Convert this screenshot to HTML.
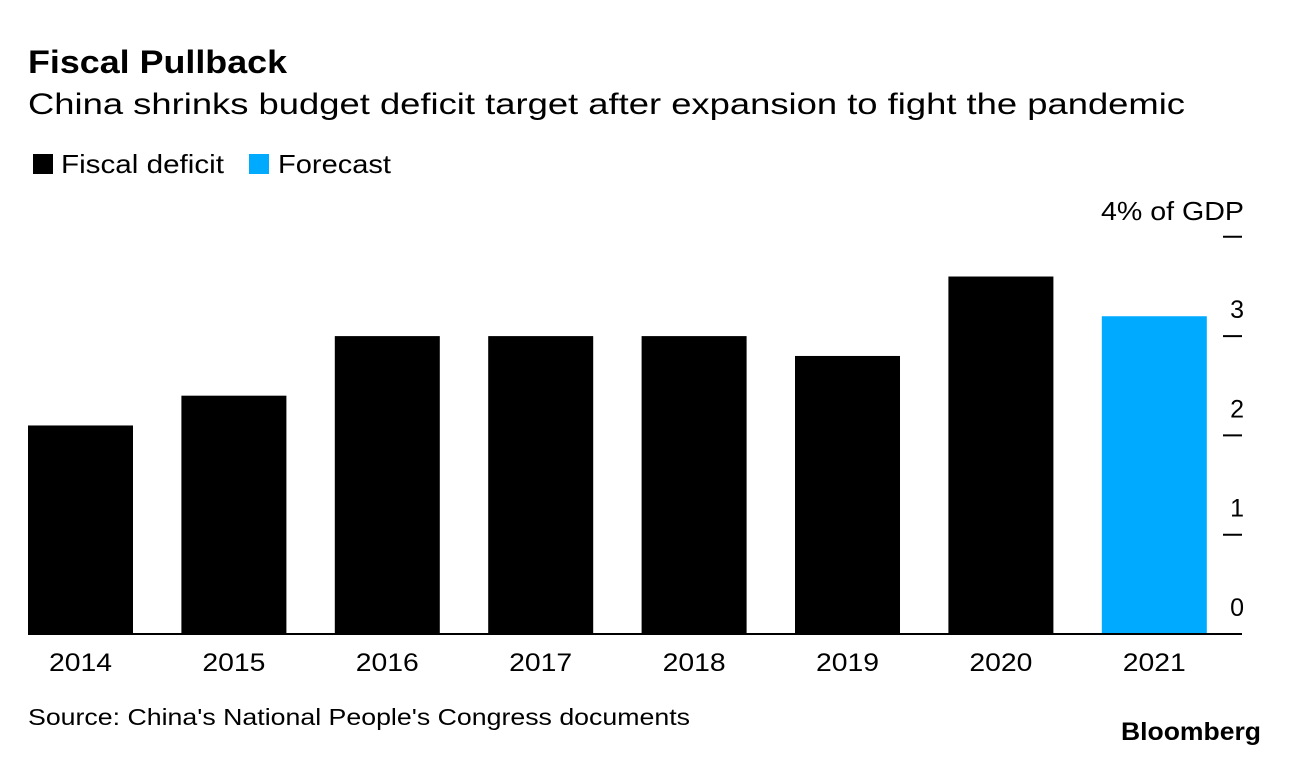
<!DOCTYPE html>
<html><head><meta charset="utf-8"><style>
body{margin:0;background:#fff;width:1289px;height:756px;overflow:hidden;font-family:"Liberation Sans",Arial,sans-serif;}
</style></head><body>
<svg width="1289" height="756" xmlns="http://www.w3.org/2000/svg" font-family="Liberation Sans, Arial, sans-serif">
<text x="28" y="73" font-size="32" font-weight="bold" fill="#000" textLength="259" lengthAdjust="spacingAndGlyphs">Fiscal Pullback</text>
<text x="28" y="114" font-size="30" fill="#000" textLength="1157" lengthAdjust="spacingAndGlyphs">China shrinks budget deficit target after expansion to fight the pandemic</text>
<g>
<rect x="33" y="154" width="20" height="20" fill="#000"/>
<text x="61" y="173" font-size="26" textLength="163" lengthAdjust="spacingAndGlyphs">Fiscal deficit</text>
<rect x="249" y="154" width="20" height="20" fill="#00aaff"/>
<text x="278" y="173" font-size="26" textLength="113" lengthAdjust="spacingAndGlyphs">Forecast</text>
</g>
<text x="1244" y="220" font-size="26" text-anchor="end" textLength="143" lengthAdjust="spacingAndGlyphs">4% of GDP</text>
<g id="plot"></g>
<text x="28" y="725" font-size="23" textLength="662" lengthAdjust="spacingAndGlyphs">Source: China's National People's Congress documents</text>
<text x="1261" y="740" font-size="25" font-weight="bold" text-anchor="end" textLength="140" lengthAdjust="spacingAndGlyphs">Bloomberg</text>
</svg>
<script>
const years=["2014","2015","2016","2017","2018","2019","2020","2021"];
const deficit=[2.1,2.4,3.0,3.0,3.0,2.8,3.6,3.2];
const isForecast=[false,false,false,false,false,false,false,true];
const yTicks=[0,1,2,3,4];
const yTickLabels=["0","1","2","3",""];
const NS="http://www.w3.org/2000/svg";
const g=document.getElementById('plot');
const y0=634,pxPerUnit=99.3,x0=28,step=153.4,bw=105;
const yScale=v=>y0-v*pxPerUnit;
const xScale=i=>x0+i*step;
function mk(t,a){const e=document.createElementNS(NS,t);for(const k in a)e.setAttribute(k,a[k]);g.appendChild(e);return e;}
years.forEach((yr,i)=>{
 const r=mk('rect',{x:xScale(i),y:yScale(deficit[i]),width:bw,height:y0-yScale(deficit[i]),fill:isForecast[i]?'#00aaff':'#000'});
 
 
 const t=mk('text',{x:xScale(i)+bw/2,y:671,'font-size':25,'text-anchor':'middle',textLength:63,lengthAdjust:'spacingAndGlyphs'});
 t.textContent=yr;
 
 
});
yTicks.forEach((v,i)=>{
 if(v>0){const l=mk('line',{x1:1223,x2:1242,y1:yScale(v),y2:yScale(v),stroke:'#000','stroke-width':2});
 
 }
 if(yTickLabels[i]){const t=mk('text',{x:1244,y:yScale(v)-18,'font-size':25,'text-anchor':'end'});
 t.textContent=yTickLabels[i];
 
 }
});
const base=mk('line',{x1:28,x2:1242,y1:y0,y2:y0,stroke:'#000','stroke-width':2});


</script>
</body></html>
